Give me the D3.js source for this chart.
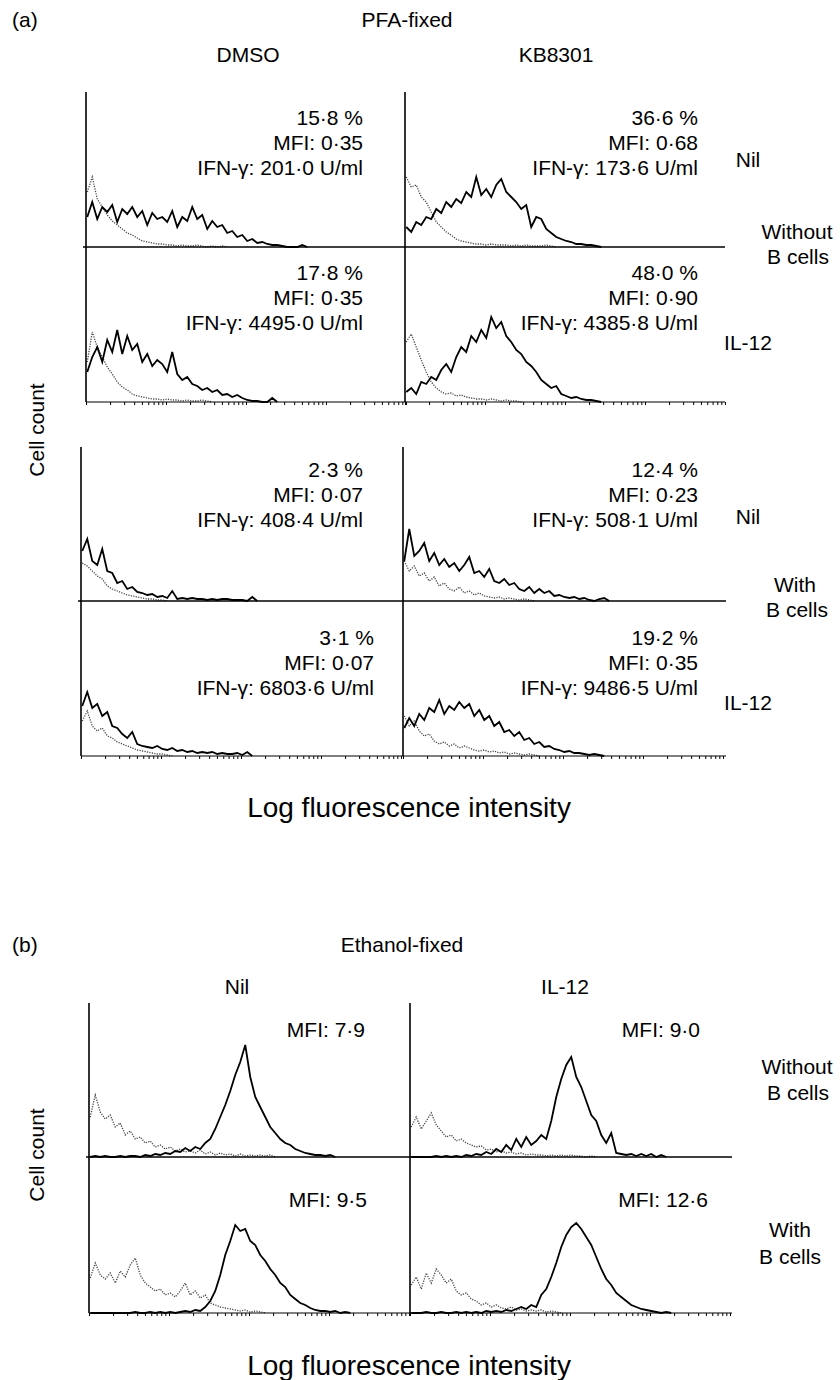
<!DOCTYPE html>
<html>
<head>
<meta charset="utf-8">
<script src="https://cdn.jsdelivr.net/npm/d3@7"></script>
<style>
  body { margin: 0; background: #fff; }
  svg { display: block; font-family: "Liberation Sans", Arial, Helvetica, sans-serif; }
</style>
</head>
<body>
<div id="chart"></div>
<script>
// Histogram bins: each value is the cell count of 4 consecutive channels (256 channels per plot)
const channelsPerBin = 4;

// (a) PFA-fixed, without B cells
const pfaDmsoNil = [30, 45, 28, 40, 35, 42, 25, 38, 33, 40, 30, 36, 22, 34, 28, 30, 25, 36, 20, 30, 26, 40, 28, 32, 18, 26, 20, 22, 14, 16, 10, 12, 6, 8, 4, 5, 3, 2, 2, 1, 0, 0, 0, 2, 0];
const pfaDmsoNilCtrl = [55, 70, 48, 40, 32, 26, 22, 18, 14, 12, 9, 6, 5, 4, 3, 3, 2, 2, 1, 2, 1, 1, 2, 1, 0, 1, 0, 1, 0];
const pfaKbNil = [20, 15, 25, 22, 30, 28, 38, 34, 45, 40, 48, 44, 55, 50, 70, 52, 58, 50, 62, 68, 55, 50, 45, 38, 42, 20, 30, 28, 18, 14, 10, 8, 6, 5, 3, 3, 2, 2, 1, 0];
const pfaKbNilCtrl = [70, 60, 62, 50, 45, 35, 25, 20, 15, 12, 8, 6, 5, 4, 3, 3, 2, 3, 2, 2, 2, 1, 2, 1, 2, 1, 1, 1, 2, 1, 0];
const pfaDmsoIl12 = [30, 45, 55, 40, 62, 50, 72, 48, 66, 52, 58, 40, 48, 36, 42, 38, 30, 50, 28, 22, 25, 18, 16, 12, 14, 10, 12, 7, 8, 5, 7, 4, 2, 1, 1, 0, 0, 4, 0];
const pfaDmsoIl12Ctrl = [40, 70, 55, 45, 35, 28, 20, 15, 12, 8, 6, 5, 4, 3, 3, 2, 3, 2, 2, 1, 2, 1, 1, 2, 1, 0];
const pfaKbIl12 = [10, 14, 8, 20, 18, 25, 22, 32, 38, 30, 45, 55, 50, 66, 60, 72, 64, 85, 74, 80, 66, 60, 52, 48, 40, 36, 30, 22, 18, 14, 16, 8, 6, 4, 5, 3, 2, 2, 1, 0];
const pfaKbIl12Ctrl = [60, 68, 55, 42, 30, 20, 14, 10, 8, 9, 6, 7, 5, 4, 3, 3, 2, 3, 2, 1, 2, 1, 1, 0];

// (a) PFA-fixed, with B cells
const pfaDmsoNilB = [50, 62, 40, 36, 52, 30, 28, 18, 20, 12, 14, 9, 8, 6, 7, 4, 5, 3, 10, 2, 3, 2, 3, 2, 2, 1, 2, 1, 2, 2, 1, 1, 1, 0, 4, 0];
const pfaDmsoNilBCtrl = [38, 35, 30, 25, 22, 15, 12, 10, 8, 6, 5, 4, 3, 2, 2, 1, 1, 0];
const pfaKbNilB = [40, 72, 45, 50, 58, 40, 48, 36, 42, 34, 38, 30, 36, 44, 28, 30, 24, 32, 20, 18, 22, 16, 18, 12, 10, 14, 8, 12, 8, 10, 5, 6, 4, 3, 4, 2, 3, 1, 0, 2, 3, 0];
const pfaKbNilBCtrl = [40, 30, 35, 25, 28, 20, 24, 15, 18, 12, 10, 14, 8, 10, 6, 8, 5, 4, 3, 4, 2, 3, 2, 1, 2, 1, 0];
const pfaDmsoIl12B = [50, 64, 48, 52, 40, 44, 30, 28, 22, 18, 24, 12, 10, 9, 8, 10, 7, 6, 8, 5, 6, 4, 5, 3, 4, 3, 4, 2, 3, 2, 2, 3, 1, 4, 0];
const pfaDmsoIl12BCtrl = [35, 45, 30, 25, 28, 20, 18, 14, 12, 10, 8, 6, 5, 4, 3, 2, 2, 1, 0];
const pfaKbIl12B = [28, 38, 30, 42, 36, 48, 44, 56, 42, 50, 46, 54, 48, 52, 40, 46, 36, 40, 30, 34, 24, 26, 20, 24, 16, 18, 12, 14, 9, 10, 7, 6, 4, 5, 3, 3, 2, 1, 2, 1, 0];
const pfaKbIl12BCtrl = [40, 30, 35, 25, 20, 22, 15, 12, 14, 10, 12, 8, 10, 8, 6, 5, 6, 4, 5, 3, 4, 2, 3, 2, 1, 2, 1, 0];

// (b) Ethanol-fixed
const ethNil = [0, 1, 0, 1, 0, 0, 1, 0, 1, 1, 0, 2, 1, 3, 2, 4, 3, 6, 5, 9, 6, 10, 8, 14, 18, 28, 40, 52, 66, 82, 95, 112, 80, 60, 50, 40, 30, 24, 18, 14, 12, 8, 6, 4, 3, 2, 2, 1, 2, 0];
const ethNilCtrl = [40, 62, 45, 38, 42, 30, 34, 22, 26, 18, 20, 14, 16, 10, 12, 8, 10, 6, 8, 5, 6, 4, 7, 3, 5, 2, 4, 2, 3, 1, 3, 1, 2, 1, 2, 1, 2, 0];
const ethIl12 = [0, 0, 0, 0, 0, 1, 0, 1, 0, 1, 0, 2, 1, 3, 2, 5, 3, 8, 5, 12, 7, 18, 10, 20, 12, 16, 22, 18, 36, 60, 78, 92, 100, 80, 70, 56, 42, 36, 22, 14, 24, 4, 3, 2, 3, 1, 3, 1, 3, 0, 2, 0];
const ethIl12Ctrl = [30, 40, 28, 36, 44, 32, 26, 20, 22, 16, 18, 14, 12, 10, 11, 7, 8, 5, 6, 4, 5, 3, 4, 2, 3, 2, 2, 1, 2, 1, 2, 1, 2, 1, 1, 0, 1, 0];
const ethNilB = [0, 0, 0, 0, 0, 0, 0, 0, 0, 1, 0, 0, 1, 0, 1, 0, 1, 0, 1, 2, 1, 3, 2, 6, 12, 22, 38, 58, 72, 88, 82, 84, 72, 68, 58, 52, 44, 38, 30, 26, 18, 14, 10, 8, 5, 3, 2, 2, 1, 2, 0, 1, 0];
const ethNilBCtrl = [35, 50, 38, 34, 40, 30, 42, 36, 48, 55, 38, 30, 26, 22, 24, 18, 20, 16, 22, 30, 18, 22, 15, 18, 10, 8, 6, 5, 4, 3, 2, 3, 1, 2, 1, 0];
const ethIl12B = [0, 0, 0, 1, 0, 0, 1, 0, 0, 1, 0, 1, 0, 1, 0, 2, 1, 2, 1, 3, 2, 4, 6, 4, 8, 6, 18, 24, 36, 50, 66, 78, 86, 90, 84, 76, 68, 56, 44, 34, 28, 20, 16, 12, 8, 6, 4, 3, 2, 1, 0, 1, 0];
const ethIl12BCtrl = [28, 36, 24, 40, 30, 44, 38, 30, 34, 22, 18, 20, 14, 12, 8, 10, 6, 8, 5, 4, 6, 3, 4, 2, 3, 2, 3, 1, 2, 1, 0];

// Annotation texts
const pfaNoBLabels = [
  ["15·8 %", "MFI: 0·35", "IFN-γ: 201·0 U/ml"],
  ["36·6 %", "MFI: 0·68", "IFN-γ: 173·6 U/ml"],
  ["17·8 %", "MFI: 0·35", "IFN-γ: 4495·0 U/ml"],
  ["48·0 %", "MFI: 0·90", "IFN-γ: 4385·8 U/ml"]
];
const pfaBLabels = [
  ["2·3 %", "MFI: 0·07", "IFN-γ: 408·4 U/ml"],
  ["12·4 %", "MFI: 0·23", "IFN-γ: 508·1 U/ml"],
  ["3·1 %", "MFI: 0·07", "IFN-γ: 6803·6 U/ml"],
  ["19·2 %", "MFI: 0·35", "IFN-γ: 9486·5 U/ml"]
];
const ethLabels = [["MFI: 7·9"], ["MFI: 9·0"], ["MFI: 9·5"], ["MFI: 12·6"]];

const width = 840, height = 1380;
const panelWidth = 320, maxCount = 155;

const svg = d3.select("#chart").append("svg")
  .attr("width", width)
  .attr("height", height);

// block layout: top of y axes, baselines for two rows, x of the two columns, annotation anchors
const blocks = [
  {
    top: 92, rows: [247, 402], cols: [86, 405], end: 725,
    series: [[pfaDmsoNil, pfaDmsoNilCtrl], [pfaKbNil, pfaKbNilCtrl], [pfaDmsoIl12, pfaDmsoIl12Ctrl], [pfaKbIl12, pfaKbIl12Ctrl]],
    labels: pfaNoBLabels,
    textY: [118, 273], textX: [[363, 698], [363, 698]]
  },
  {
    top: 447, rows: [601, 756], cols: [81, 403], end: 726,
    series: [[pfaDmsoNilB, pfaDmsoNilBCtrl], [pfaKbNilB, pfaKbNilBCtrl], [pfaDmsoIl12B, pfaDmsoIl12BCtrl], [pfaKbIl12B, pfaKbIl12BCtrl]],
    labels: pfaBLabels,
    textY: [470, 638], textX: [[363, 698], [374, 698]]
  },
  {
    top: 1003, rows: [1157, 1313], cols: [89, 410], end: 732,
    series: [[ethNil, ethNilCtrl], [ethIl12, ethIl12Ctrl], [ethNilB, ethNilBCtrl], [ethIl12B, ethIl12BCtrl]],
    labels: ethLabels,
    textY: [1030, 1200], textX: [[365, 700], [367, 708]]
  }
];

blocks.forEach(block => {
  const g = svg.append("g");

  block.series.forEach((pair, k) => {
    const row = Math.floor(k / 2), col = k % 2;
    const base = block.rows[row];
    const x0 = block.cols[col];

    const xScale = d3.scaleLinear().domain([0, 256]).range([x0, x0 + panelWidth]);
    const yScale = d3.scaleLinear().domain([0, maxCount]).range([base, base - maxCount]);

    const line = d3.line()
      .x((d, i) => xScale(i * channelsPerBin + 1))
      .y(d => yScale(d))
      .curve(d3.curveLinear);

    // control (dotted)
    g.append("path")
      .datum(pair[1])
      .attr("d", line)
      .attr("fill", "none")
      .attr("stroke", "#444")
      .attr("stroke-width", 1.3)
      .attr("stroke-dasharray", "1.2,1.3");

    // stained (solid)
    g.append("path")
      .datum(pair[0])
      .attr("d", line)
      .attr("fill", "none")
      .attr("stroke", "#000")
      .attr("stroke-width", 1.8)
      .attr("stroke-linejoin", "miter");

    // annotation text
    block.labels[k].forEach((t, j) => {
      g.append("text")
        .attr("x", block.textX[row][col])
        .attr("y", block.textY[row] + j * 25)
        .attr("dy", "0.35em")
        .attr("text-anchor", "end")
        .style("font-size", "21px")
        .text(t);
    });

    // bottom axis with log ticks
    if (row === 1) {
      const logScale = d3.scaleLog().domain([1, 10000]).range([x0, x0 + panelWidth]);
      g.append("g")
        .attr("transform", `translate(0,${base})`)
        .call(d3.axisBottom(logScale).tickSize(3).tickSizeOuter(0).tickFormat(""))
        .call(a => a.select(".domain").remove())
        .selectAll("line").attr("stroke", "#000").attr("stroke-width", 1);
    }
  });

  // axis lines
  block.cols.forEach(cx => {
    g.append("line")
      .attr("x1", cx).attr("x2", cx)
      .attr("y1", block.top).attr("y2", block.rows[1])
      .attr("stroke", "#000").attr("stroke-width", 1.6);
  });
  g.append("line")
    .attr("x1", block.cols[0] - 3).attr("x2", block.end)
    .attr("y1", block.rows[0]).attr("y2", block.rows[0])
    .attr("stroke", "#000").attr("stroke-width", 1.4);
  g.append("line")
    .attr("x1", block.cols[0]).attr("x2", block.end)
    .attr("y1", block.rows[1]).attr("y2", block.rows[1])
    .attr("stroke", "#000").attr("stroke-width", 1.2);
});

// Header and side labels
const textItems = [
  {t: "(a)", x: 12, y: 20, a: "start"},
  {t: "PFA-fixed", x: 407, y: 20, a: "middle"},
  {t: "DMSO", x: 248, y: 55, a: "middle"},
  {t: "KB8301", x: 556, y: 55, a: "middle"},
  {t: "Nil", x: 748, y: 160, a: "middle"},
  {t: "Without", x: 797, y: 232, a: "middle"},
  {t: "B cells", x: 798, y: 257, a: "middle"},
  {t: "IL-12", x: 748, y: 343, a: "middle"},
  {t: "Nil", x: 748, y: 517, a: "middle"},
  {t: "With", x: 795, y: 585, a: "middle"},
  {t: "B cells", x: 797, y: 610, a: "middle"},
  {t: "IL-12", x: 748, y: 703, a: "middle"},
  {t: "(b)", x: 12, y: 945, a: "start"},
  {t: "Ethanol-fixed", x: 402, y: 945, a: "middle"},
  {t: "Nil", x: 237, y: 987, a: "middle"},
  {t: "IL-12", x: 565, y: 987, a: "middle"},
  {t: "Without", x: 797, y: 1067, a: "middle"},
  {t: "B cells", x: 798, y: 1093, a: "middle"},
  {t: "With", x: 790, y: 1230, a: "middle"},
  {t: "B cells", x: 790, y: 1257, a: "middle"}
];

svg.selectAll(".lbl")
  .data(textItems)
  .enter()
  .append("text")
  .attr("class", "lbl")
  .attr("x", d => d.x)
  .attr("y", d => d.y)
  .attr("dy", "0.35em")
  .attr("text-anchor", d => d.a)
  .style("font-size", "21px")
  .text(d => d.t);

// Cell count (rotated)
[430, 1155].forEach(cy => {
  svg.append("text")
    .attr("transform", `translate(37,${cy}) rotate(-90)`)
    .attr("dy", "0.35em")
    .attr("text-anchor", "middle")
    .style("font-size", "21px")
    .text("Cell count");
});

// x axis titles
[807, 1365].forEach(ty => {
  svg.append("text")
    .attr("x", 409)
    .attr("y", ty)
    .attr("dy", "0.35em")
    .attr("text-anchor", "middle")
    .style("font-size", "28px")
    .text("Log fluorescence intensity");
});
</script>
</body>
</html>
